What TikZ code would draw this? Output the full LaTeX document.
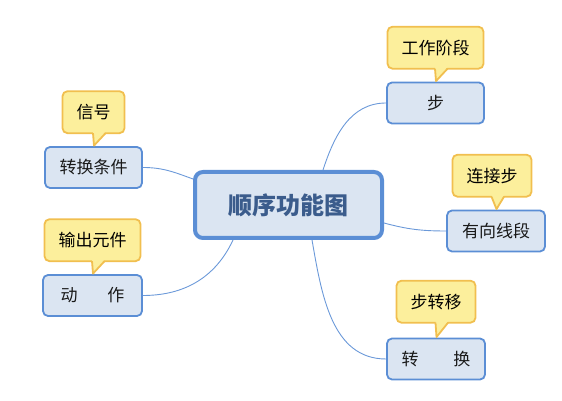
\documentclass[tikz,border=0pt]{standalone}
\usepackage{fontspec}
\setmainfont{Noto Sans CJK SC}
\usetikzlibrary{positioning,calc}
\definecolor{boxfill}{HTML}{DBE5F2}
\definecolor{boxline}{HTML}{5B8ED5}
\definecolor{notefill}{HTML}{FCEF9C}
\definecolor{noteline}{HTML}{F1BF4F}
\definecolor{titletext}{HTML}{3B5C8C}

\begin{document}
\begin{tikzpicture}[
    x=1pt,y=1pt,
    node distance=12pt,
    topic/.style={rectangle,draw=boxline,fill=boxfill,line width=1.8pt,rounded corners=5pt,minimum width=97pt,minimum height=41pt,inner xsep=14pt,inner ysep=0pt,font=\fontsize{17}{19}\selectfont,text=black!90},
    central/.style={rectangle,draw=boxline,fill=boxfill,line width=4pt,rounded corners=8pt,minimum width=187pt,minimum height=66pt,font=\fontsize{24}{27}\selectfont\bfseries,text=titletext},
    note/.style={rectangle,draw=noteline,fill=notefill,line width=1.8pt,rounded corners=5pt,minimum height=42pt,inner xsep=14pt,inner ysep=0pt,font=\fontsize{17}{19}\selectfont,text=black},
    branch/.style={boxline!90,line width=0.9pt}
]
    \useasboundingbox (0,0) rectangle (562,401);

    \node[central] (main) at (288.5,196) {顺序功能图};

    \node[topic] (step) at (435.5,298) {步};
    \node[topic] (cond) at (93.5,233.5) {转换条件};
    \node[topic,minimum width=99pt] (act) at (92.5,105.5) {动\hspace{30pt}作};
    \node[topic,minimum width=98pt] (link) at (496,170) {有向线段};
    \node[topic,minimum width=98pt] (trans) at (436,42) {转\hspace{35pt}换};

    \node[note,above=12pt of step] (stepnote) {工作阶段};
    \node[note,above=12pt of cond] (condnote) {信号};
    \node[note,above=12pt of act] (actnote) {输出元件};
    \node[note,above=12pt of link,xshift=-4pt] (linknote) {连接步};
    \node[note,above=14pt of trans] (transnote) {步转移};

    \foreach \n/\b in {stepnote/step,condnote/cond,actnote/act,linknote/link,transnote/trans}{
        \fill[notefill] ($(\n.south)+(-0.5,2.5)$) -- ($(\b.north)+(0.5,0.5)$) -- ($(\n.south)+(12,2.5)$) -- cycle;
        \draw[noteline,line width=1.8pt,line join=round] ($(\n.south)+(-0.5,0.9)$) -- ($(\b.north)+(0.5,0.5)$) -- ($(\n.south)+(12,0.9)$);
    }

    \draw[branch] ([xshift=34.5pt]main.north) to[out=72,in=180] (step.west);
    \draw[branch] ([yshift=26pt]main.west) to[out=160,in=0] (cond.east);
    \draw[branch] ([xshift=-55.5pt]main.south) to[out=-115,in=0] (act.east);
    \draw[branch] ([yshift=-18pt]main.east) to[out=-15,in=180] (link.west);
    \draw[branch] ([xshift=23.5pt]main.south) to[out=-80,in=180] (trans.west);
\end{tikzpicture}
\end{document}
